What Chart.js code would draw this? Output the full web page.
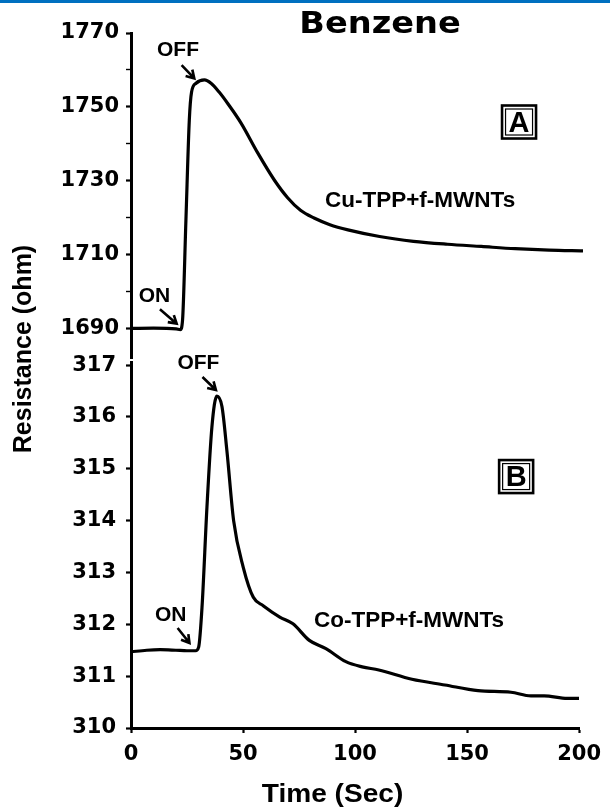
<!DOCTYPE html>
<html>
<head>
<meta charset="utf-8">
<script src="https://cdn.jsdelivr.net/npm/chart.js@4.4.1/dist/chart.umd.min.js"></script>
<style>
  body { margin: 0; background: #fff; }
  #wrap { position: relative; width: 610px; height: 808px; }
  #wrap canvas { position: absolute; left: 0; top: 0; }
</style>
</head>
<body>
<div id="wrap">
  <canvas id="chartB" width="610" height="808"></canvas>
  <canvas id="chartA" width="610" height="808"></canvas>
</div>
<script>
// Panel A: Cu-TPP+f-MWNTs
const timeA = [0, 10, 20, 21.8, 22.8, 24.3, 25.8, 26.8, 28.8, 32.5, 35.4, 39, 42.8, 48.7, 56, 63.4, 69.3, 75, 81, 88, 96, 110, 125, 140, 155, 170, 185, 200];
const resA = [1690, 1690.1, 1689.9, 1689.7, 1692.2, 1719.3, 1746.4, 1754, 1756.4, 1757.3, 1756.4, 1754, 1750.9, 1745.6, 1737.6, 1730.2, 1725.4, 1722, 1719.9, 1718.1, 1716.7, 1714.9, 1713.6, 1712.8, 1712.2, 1711.6, 1711.2, 1711];

// Panel B: Co-TPP+f-MWNTs
const timeB = [0, 7, 13, 20, 25, 28.8, 30.2, 31.7, 33.9, 36.1, 38.3, 40.6, 42.8, 45.8, 50.1, 54.6, 59, 66.4, 72.3, 79.6, 87, 95.9, 103.2, 110.6, 125.4, 140.1, 154.9, 169.6, 178.5, 184.4, 194.7, 200];
const resB = [311.47, 311.5, 311.51, 311.5, 311.49, 311.49, 311.56, 312.33, 314.26, 315.8, 316.4, 316.2, 315.35, 314, 313.1, 312.52, 312.36, 312.14, 312.01, 311.69, 311.53, 311.28, 311.18, 311.12, 310.94, 310.83, 310.72, 310.69, 310.62, 310.62, 310.57, 310.57];

// Tick labels
const ticksA = [1690, 1700, 1710, 1720, 1730, 1740, 1750, 1760, 1770];
const ticksB = [310, 311, 312, 313, 314, 315, 316, 317];
const ticksX = [0, 50, 100, 150, 200];

const tickFont = { family: 'DejaVu Sans', size: 21, weight: 'bold' };

const toPoints = (xs, ys) => xs.map((t, i) => ({ x: t, y: ys[i] }));

function drawArrow(ctx, x0, y0, x1, y1) {
	const ang = Math.atan2(y1 - y0, x1 - x0);
	const len = 9;
	ctx.beginPath();
	ctx.moveTo(x0, y0);
	ctx.lineTo(x1, y1);
	ctx.moveTo(x1 + len * Math.cos(ang + 2.6), y1 + len * Math.sin(ang + 2.6));
	ctx.lineTo(x1, y1);
	ctx.lineTo(x1 + len * Math.cos(ang - 2.6), y1 + len * Math.sin(ang - 2.6));
	ctx.stroke();
}

// Annotations placed in data coordinates
const notesPlugin = {
	id: 'notes',
	afterDraw(chart, args, opts) {
		const { ctx } = chart;
		const x = chart.scales.x;
		const y = chart.scales.y;
		ctx.save();
		ctx.fillStyle = '#000';
		ctx.strokeStyle = '#000';
		ctx.textAlign = 'center';
		ctx.textBaseline = 'middle';

		(opts.texts || []).forEach(n => {
			ctx.font = n.font;
			ctx.fillText(n.text, x.getPixelForValue(n.t), y.getPixelForValue(n.v));
		});

		ctx.lineWidth = 2.6;
		ctx.lineJoin = 'miter';
		(opts.arrows || []).forEach(a => {
			drawArrow(ctx, x.getPixelForValue(a.from[0]), y.getPixelForValue(a.from[1]),
				x.getPixelForValue(a.to[0]), y.getPixelForValue(a.to[1]));
		});

		(opts.boxes || []).forEach(b => {
			const cx = x.getPixelForValue(b.t);
			const cy = y.getPixelForValue(b.v);
			ctx.lineWidth = 2.6;
			ctx.strokeRect(cx - 17, cy - 16.5, 34, 33);
			ctx.lineWidth = 1.2;
			ctx.strokeRect(cx - 13.5, cy - 13, 27, 26);
			ctx.font = 'bold 29px "Liberation Sans", Arial';
			ctx.fillText(b.text, cx, cy + 1.5);
		});
		ctx.restore();
	}
};

// Page-level texts (title, axis titles, top band)
const labelsPlugin = {
	id: 'pageLabels',
	afterDraw(chart, args, opts) {
		const { ctx } = chart;
		ctx.save();
		if (opts.band) {
			ctx.fillStyle = opts.band.color;
			ctx.fillRect(0, 0, chart.width, opts.band.height);
		}
		ctx.fillStyle = '#000';
		ctx.textAlign = 'center';
		ctx.textBaseline = 'middle';
		(opts.items || []).forEach(l => {
			ctx.save();
			ctx.translate(l.x, l.y);
			if (l.rotate) ctx.rotate(l.rotate);
			ctx.scale(l.sx || 1, 1);
			ctx.font = l.font;
			ctx.fillText(l.text, 0, 0);
			ctx.restore();
		});
		ctx.restore();
	}
};

function yScale(min, max, tickList, majorTest, pad) {
	return {
		min: min,
		max: max,
		afterFit: s => { s.width = 131; },
		afterBuildTicks: s => { s.ticks = tickList.map(v => ({ value: v })); },
		border: { display: true, color: '#000', width: 3 },
		grid: {
			drawOnChartArea: false,
			drawTicks: true,
			tickLength: 5,
			tickColor: '#000',
			tickWidth: c => (c.tick && majorTest(c.tick.value) ? 2.2 : 1.4)
		},
		ticks: {
			color: '#000',
			font: tickFont,
			padding: pad,
			callback: v => (majorTest(v) ? String(v) : '')
		}
	};
}

const lineStyle = {
	borderColor: '#000',
	borderWidth: 3.2,
	pointRadius: 0,
	fill: false,
	cubicInterpolationMode: 'monotone'
};

new Chart(document.getElementById('chartA'), {
	type: 'line',
	data: {
		datasets: [Object.assign({ label: 'Cu-TPP+f-MWNTs', data: toPoints(timeA, resA) }, lineStyle)]
	},
	options: {
		responsive: false,
		animation: false,
		layout: { padding: { left: 0, top: 33, right: 27, bottom: 450 } },
		scales: {
			x: { type: 'linear', min: 0, max: 200, display: false },
			y: yScale(1682, 1770, ticksA, v => v % 20 === 10, 7)
		},
		plugins: {
			legend: { display: false },
			tooltip: { enabled: false },
			notes: {
				texts: [
					{ text: 'OFF', t: 20.8, v: 1765.4, font: 'bold 21px "Liberation Sans", Arial' },
					{ text: 'ON', t: 10.4, v: 1698.7, font: 'bold 21px "Liberation Sans", Arial' },
					{ text: 'Cu-TPP+f-MWNTs', t: 127.9, v: 1724.7, font: 'bold 22.5px "Liberation Sans", Arial' }
				],
				arrows: [
					{ from: [22.4, 1761.3], to: [28, 1757.7] },
					{ from: [12.8, 1695.2], to: [20.2, 1691.3] }
				],
				boxes: [{ text: 'A', t: 171.7, v: 1745.9 }]
			},
			pageLabels: {
				band: { color: '#0070c0', height: 3 },
				items: [
					{ text: 'Benzene', x: 380, y: 25, sx: 1.12, font: 'bold 30px "DejaVu Sans", Arial' },
					{ text: 'Resistance (ohm)', x: 24, y: 349, rotate: -Math.PI / 2, font: 'bold 25px "Liberation Sans", Arial' }
				]
			}
		}
	},
	plugins: [notesPlugin, labelsPlugin]
});

new Chart(document.getElementById('chartB'), {
	type: 'line',
	data: {
		datasets: [Object.assign({ label: 'Co-TPP+f-MWNTs', data: toPoints(timeB, resB) }, lineStyle)]
	},
	options: {
		responsive: false,
		animation: false,
		layout: { padding: { left: 0, top: 362, right: 27, bottom: 0 } },
		scales: {
			x: {
				type: 'linear',
				min: 0,
				max: 200,
				afterFit: s => { s.height = 80; },
				afterBuildTicks: s => { s.ticks = ticksX.map(v => ({ value: v })); },
				border: { display: true, color: '#000', width: 3 },
				grid: { drawOnChartArea: false, drawTicks: true, tickLength: 5, tickColor: '#000', tickWidth: 2.2 },
				ticks: { color: '#000', font: tickFont, padding: 9, maxRotation: 0 }
			},
			y: yScale(310, 317.06, ticksB, v => Number.isInteger(v), 10)
		},
		plugins: {
			legend: { display: false },
			tooltip: { enabled: false },
			notes: {
				texts: [
					{ text: 'OFF', t: 30.1, v: 317.03, font: 'bold 21px "Liberation Sans", Arial' },
					{ text: 'ON', t: 17.7, v: 312.18, font: 'bold 21px "Liberation Sans", Arial' },
					{ text: 'Co-TPP+f-MWNTs', t: 124.1, v: 312.06, font: 'bold 22.5px "Liberation Sans", Arial' }
				],
				arrows: [
					{ from: [31.9, 316.77], to: [37.9, 316.52] },
					{ from: [20.8, 311.93], to: [26.1, 311.64] }
				],
				boxes: [{ text: 'B', t: 171.9, v: 314.85 }]
			},
			pageLabels: {
				items: [
					{ text: 'Time (Sec)', x: 332.5, y: 795, sx: 1.08, font: 'bold 26px "Liberation Sans", Arial' }
				]
			}
		}
	},
	plugins: [notesPlugin, labelsPlugin]
});
</script>
</body>
</html>
